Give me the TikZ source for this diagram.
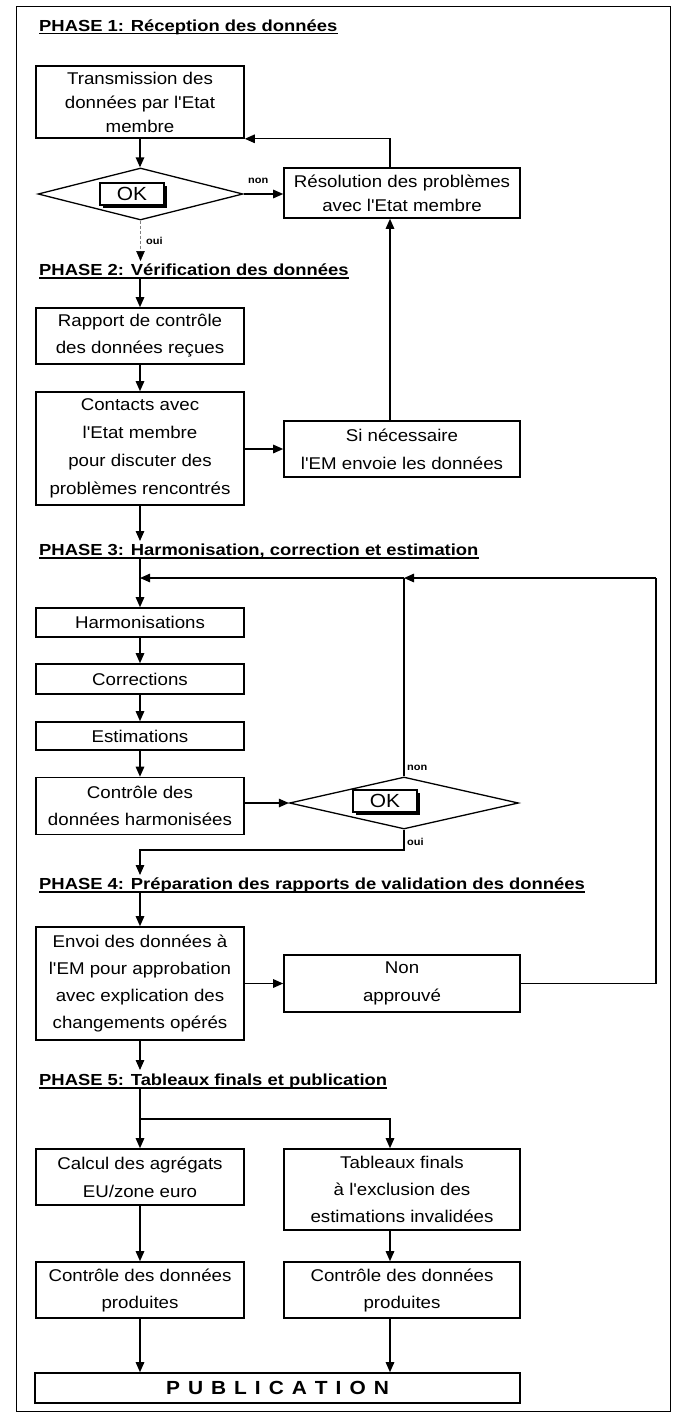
\documentclass[tikz,border=0pt]{standalone}
\usepackage{fontspec}
\setmainfont{Liberation Sans}
\newfontfamily\fBody{Liberation Sans}[FakeStretch=1.1]
\newfontfamily\fTitle{Liberation Sans}[FakeStretch=1.15]
\usetikzlibrary{arrows.meta,shapes.geometric,shadows}
\newcommand\bodyA{\fBody\fontsize{17}{27}\selectfont}
\newcommand\bodyB{\fBody\fontsize{17}{24}\selectfont}
\newcommand\bodyC{\fBody\fontsize{17}{28}\selectfont}
\newcommand\ttlfont{\fTitle\fontsize{16}{20}\selectfont\bfseries}
\newcommand\lblfont{\fBody\fontsize{10}{12}\selectfont\bfseries}
\newcommand\okfont{\fBody\fontsize{19}{22}\selectfont}
\newcommand\pubfont{\fBody\fontsize{19}{22}\selectfont\bfseries}
\begin{document}
\begin{tikzpicture}[x=1pt,y=-1pt,
  box/.style={draw,line width=1.6pt,align=center,inner sep=0pt,font=\bodyA},
  lbox/.style={box,minimum width=208pt},
  rbox/.style={box,minimum width=236pt},
  arr/.style={line width=1.3pt,-{Triangle[length=10pt,width=8.5pt]}},
  ln/.style={line width=1.3pt},
  ttl/.style={anchor=base west,inner sep=0pt,font=\ttlfont},
  ul/.style={line width=1.2pt},
  lbl/.style={anchor=west,inner sep=0pt,font=\lblfont},
  dia/.style={draw,diamond,line width=1.3pt,inner sep=0pt},
  okb/.style={draw,fill=white,line width=1.2pt,minimum width=64pt,minimum height=22pt,inner sep=0pt,font=\okfont,
    drop shadow={shadow xshift=3pt,shadow yshift=-3pt,opacity=1,fill=black}}
]
\fill[white] (0,0) rectangle (677,1414);
\useasboundingbox (0,0) rectangle (677,1414);
\draw[line width=1pt] (16,6) rectangle (670,1411);

% helper coordinates
\coordinate (rc) at (390,0);
\coordinate (lpx) at (656,0);
\coordinate (lpy) at (0,578);
\coordinate (ouy) at (0,850);

% ---------- titles ----------
\node[ttl] (P1) at (39,31) {PHASE 1: Réception des données};
\node[ttl] (P2) at (39,275.5) {PHASE 2: Vérification des données};
\node[ttl] (P3) at (39,555.5) {PHASE 3: Harmonisation, correction et estimation};
\node[ttl] (P4) at (39,889.5) {PHASE 4: Préparation des rapports de validation des données};
\node[ttl] (P5) at (39,1085.5) {PHASE 5: Tableaux finals et publication};
\foreach \p in {P1,P2,P3,P4,P5}
  \draw[ul] ([yshift=-2.5pt]\p.base west) -- ([yshift=-2.5pt]\p.base east);

% ---------- phase 1 ----------
\node[lbox,minimum height=72pt,font=\bodyB] (T) at (140,102) {Transmission des\\données par l'Etat\\membre};
\node[dia,minimum width=205pt,minimum height=52pt] (d1) at (140.5,194) {};
\node[okb] (ok1) at (132,194) {OK};
\node[rbox,minimum height=50pt,font=\bodyB] (R) at (402,193) {Résolution des problèmes\\avec l'Etat membre};
\node[lbl] (non1) at (248,181) {non};
\node[lbl] (oui1) at (146,241) {oui};
\coordinate (p2a) at (140.5,261);

% ---------- phase 2 ----------
\coordinate (p2b) at (140,279);
\node[lbox,minimum height=56pt] (Rap) at (140,336) {Rapport de contrôle\\des données reçues};
\node[lbox,minimum height=113pt,font=\bodyC] (Con) at (140,448.5) {Contacts avec\\l'Etat membre\\pour discuter des\\problèmes rencontrés};
\node[rbox,minimum height=56pt,font=\bodyC] (Si) at (402,449) {Si nécessaire\\l'EM envoie les données};
\coordinate (p3a) at (140,541);

% ---------- phase 3 ----------
\coordinate (p3b) at (140,559);
\node[lbox,minimum height=29pt] (Harm) at (140,622.5) {Harmonisations};
\node[lbox,minimum height=30pt] (Corr) at (140,679) {Corrections};
\node[lbox,minimum height=28pt] (Est) at (140,736) {Estimations};
\node[lbox,minimum height=57pt] (Ctrl) at (140,806) {Contrôle des\\données harmonisées};
\node[dia,minimum width=229pt,minimum height=52pt] (d2) at (404,803) {};
\node[okb] (ok2) at (385,801) {OK};
\node[lbl] (non2) at (407,768) {non};
\node[lbl] (oui2) at (407,842) {oui};
\coordinate (p4a) at (140,875);

% ---------- phase 4 ----------
\coordinate (p4b) at (140,893);
\node[lbox,minimum height=113pt] (Env) at (140,983.5) {Envoi des données à\\l'EM pour approbation\\avec explication des\\changements opérés};
\node[rbox,minimum height=57pt,font=\bodyC] (NA) at (402,983.5) {Non\\approuvé};
\coordinate (p5a) at (140,1070);

% ---------- phase 5 ----------
\coordinate (p5b) at (140,1089);
\coordinate (spl) at (140,1119);
\node[lbox,minimum height=56pt,font=\bodyC] (Cal) at (140,1177) {Calcul des agrégats\\EU/zone euro};
\node[rbox,minimum height=81pt] (Tab) at (402,1189.5) {Tableaux finals\\à l'exclusion des\\estimations invalidées};
\node[lbox,minimum height=56pt] (CL) at (140,1290) {Contrôle des données\\produites};
\node[rbox,minimum height=56pt] (CR) at (402,1290) {Contrôle des données\\produites};
\node[box,minimum width=485pt,minimum height=30pt,font=\pubfont] (PUB) at (277.5,1388)
  {P\hspace{8pt}U\hspace{8pt}B\hspace{8pt}L\hspace{8pt}I\hspace{8pt}C\hspace{8pt}A\hspace{8pt}T\hspace{8pt}I\hspace{8pt}O\hspace{8pt}N};

% ---------- connectors ----------
\draw[arr] (T.south) -- (T.south |- d1.north);
\draw[arr] (d1.east) -- (d1.east -| R.west);
\draw[arr] (rc |- R.north) |- (T.south east);
\draw[densely dashed,line width=0.6pt,gray,-{Triangle[length=10pt,width=8.5pt,black]}] (d1.south) -- (p2a);
\draw[arr] (p2b) -- (p2b |- Rap.north);
\draw[arr] (Rap.south) -- (Con.north);
\draw[arr] (Con.east |- Si.west) -- (Si.west);
\draw[arr] (rc |- Si.north) -- (rc |- R.south);
\draw[arr] (Con.south) -- (p3a);

\draw[arr] (p3b) -- (Harm.north);
\draw[ln] (NA.east) -| (lpx |- lpy);
\draw[arr] (lpx |- lpy) -- (d2.north |- lpy);
\draw[arr] (d2.north |- lpy) -- (Harm.north |- lpy);
\draw[ln] (d2.north) -- (d2.north |- lpy);
\draw[arr] (Harm.south) -- (Corr.north);
\draw[arr] (Corr.south) -- (Est.north);
\draw[arr] (Est.south) -- (Ctrl.north);
\draw[arr] (Ctrl.east |- d2.west) -- (d2.west);
\draw[arr] (d2.south) |- (p4a |- ouy) -- (p4a);

\draw[arr] (p4b) -- (Env.north);
\draw[arr] (Env.east |- NA.west) -- (NA.west);
\draw[arr] (Env.south) -- (p5a);

\draw[arr] (p5b) -- (Cal.north);
\draw[arr] (spl) -| (rc |- Tab.north);
\draw[arr] (Cal.south) -- (CL.north);
\draw[arr] (rc |- Tab.south) -- (rc |- CR.north);
\draw[arr] (CL.south) -- (CL.south |- PUB.north);
\draw[arr] (rc |- CR.south) -- (rc |- PUB.north);
\end{tikzpicture}
\end{document}
